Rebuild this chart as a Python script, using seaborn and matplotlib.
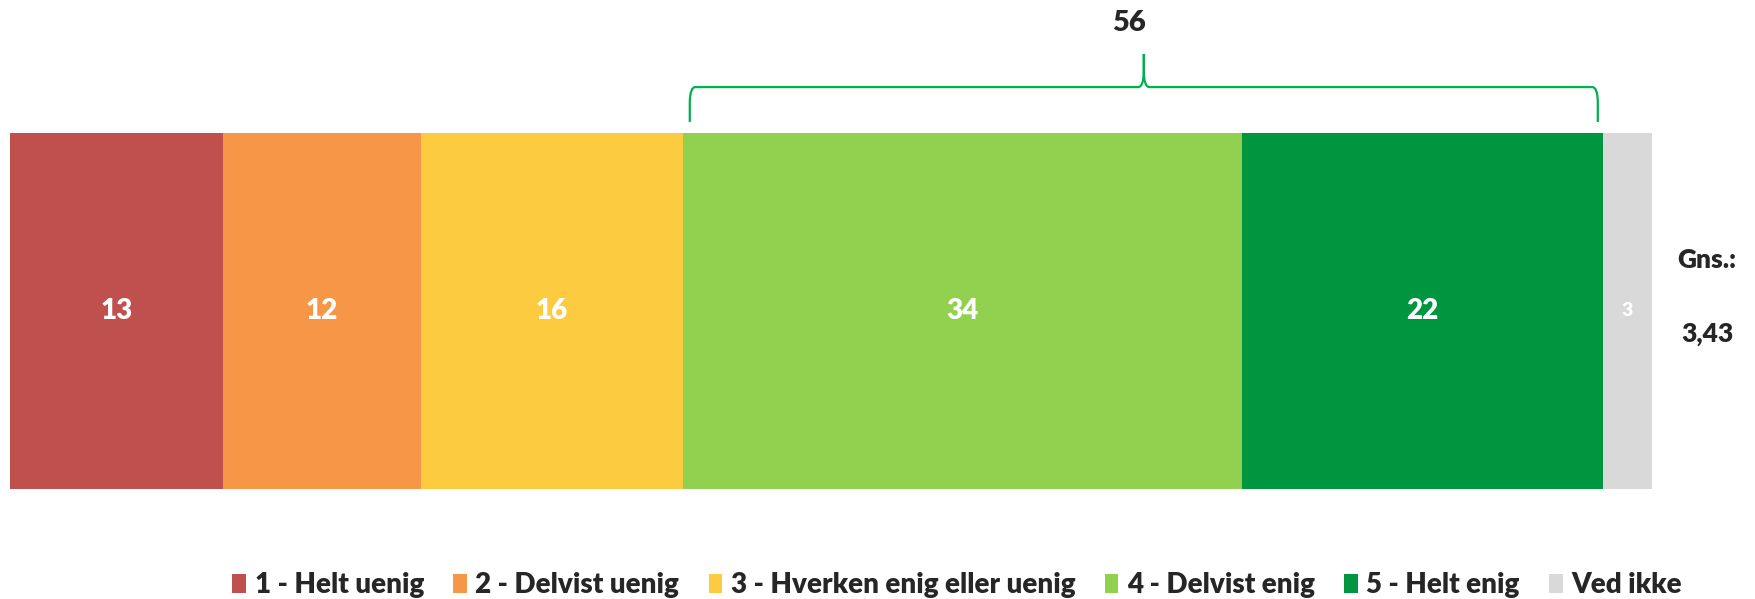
import numpy as np
import pandas as pd
import seaborn as sns
import matplotlib.pyplot as plt
from matplotlib.patches import Patch, PathPatch
from matplotlib.path import Path

# data
labels = ["1 - Helt uenig", "2 - Delvist uenig", "3 - Hverken enig eller uenig",
          "4 - Delvist enig", "5 - Helt enig", "Ved ikke"]
values = [13, 12, 16, 34, 22, 3]
colors = ["#C0504D", "#F79646", "#FDCB40", "#92D050", "#00963F", "#D9D9D9"]
bracket_value = 56
mean_label = "Gns.:"
mean_value = "3,43"

sns.set_style("white")
plt.rcParams['font.family'] = ['Lato', 'DejaVu Sans']

fig = plt.figure(figsize=(17.56, 5.99), dpi=100)
ax = fig.add_axes([10 / 1756, 1 - 489 / 599, 1642 / 1756, 356 / 599])

# stacked bar: draw cumulative bars from the longest down
cum = np.cumsum(values)
for i in reversed(range(len(values))):
    df = pd.DataFrame({"val": [cum[i]], "q": ["q"]})
    sns.barplot(data=df, x="val", y="q", color=colors[i], width=1.0, ax=ax,
                orient="h", saturation=1, linewidth=0)

ax.set_xlim(0, 100)
ax.set_ylim(0.5, -0.5)
ax.axis("off")

# segment labels
for i, v in enumerate(values):
    fs = 14 if v < 5 else 20
    ax.text(cum[i] - v / 2, 0, str(v), color="white", fontsize=fs,
            fontweight="heavy", ha="center", va="center")

# curly bracket above 4 + 5
x0 = cum[2] + 0.4
x1 = cum[4] - 0.3
xm = (x0 + x1) / 2
y0, y1, y2 = 1.031, 1.129, 1.222
dx, dy = 0.35, 0.045
tr = ax.get_xaxis_transform()
for s, xe in [(1, x0), (-1, x1)]:
    verts = [(xe, y0), (xe, y1 - dy), (xe, y1), (xe + s * dx, y1),
             (xm - s * dx, y1), (xm, y1), (xm, y1 + dy), (xm, y2)]
    codes = [Path.MOVETO, Path.LINETO, Path.CURVE3, Path.CURVE3,
             Path.LINETO, Path.CURVE3, Path.CURVE3, Path.LINETO]
    ax.add_patch(PathPatch(Path(verts, codes), transform=tr, fill=False,
                           edgecolor="#00B050", linewidth=1.6, clip_on=False))
ax.text(xm - 0.9, 1.31, str(bracket_value), transform=tr, fontsize=21,
        fontweight="heavy", ha="center", va="center", clip_on=False)

# mean
fig.text(1707 / 1756, 1 - 260 / 599, mean_label, fontsize=19, fontweight="heavy",
         ha="center", va="center")
fig.text(1707 / 1756, 1 - 334 / 599, mean_value, fontsize=19, fontweight="heavy",
         ha="center", va="center")

# legend
handles = [Patch(facecolor=c, edgecolor="none") for c in colors]
fig.legend(handles, labels, ncol=6, loc="center",
           bbox_to_anchor=(957 / 1756, 1 - 585 / 599), frameon=False,
           prop={"size": 20, "weight": "heavy"}, handlelength=0.5,
           handleheight=0.7, handletextpad=0.3, columnspacing=1.05)

fig.savefig("out.png", dpi=100)
